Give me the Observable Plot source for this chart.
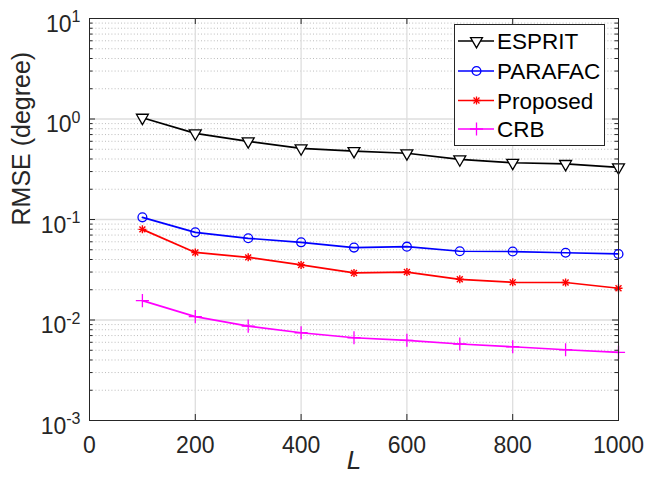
<!DOCTYPE html>
<html><head><meta charset="utf-8">
<script src="https://cdn.jsdelivr.net/npm/d3@7"></script>
<script src="https://cdn.jsdelivr.net/npm/@observablehq/plot@0.6"></script>
<style>
body{margin:0;background:#fff;}
#wrap{position:relative;width:657px;height:480px;}
#legend{position:absolute;left:454px;top:24px;width:149px;height:120px;border:1px solid #262626;background:#fff;}
#legend svg{display:block;}
</style></head><body><div id="wrap"></div>
<script>
// ---- data ----
const L = [100, 200, 300, 400, 500, 600, 700, 800, 900, 1000];
const esprit   = [1.03, 0.72, 0.60, 0.51, 0.48, 0.456, 0.397, 0.367, 0.357, 0.33];
const parafac  = [0.105, 0.0745, 0.065, 0.0593, 0.0525, 0.0537, 0.0483, 0.048, 0.0467, 0.0454];
const proposed = [0.0798, 0.047, 0.042, 0.0353, 0.0294, 0.030, 0.0254, 0.0237, 0.0236, 0.0207];
const crb      = [0.0156, 0.0108, 0.0087, 0.00747, 0.00666, 0.00628, 0.00577, 0.00542, 0.00506, 0.00476];
const seriesNames = ["ESPRIT", "PARAFAC", "Proposed", "CRB"];
const seriesColors = ["#000000", "#0000ff", "#ff0000", "#ff00ff"];
const xTicks = [0, 200, 400, 600, 800, 1000];
const yTicks = [1e-3, 1e-2, 1e-1, 1, 10];
const xLabel = "L";
const yLabel = "RMSE (degree)";

const seriesValues = [esprit, parafac, proposed, crb];
const rows = seriesNames.flatMap((s, k) => L.map((x, i) => ({L: x, v: seriesValues[k][i], s})));
const yMinor = [];
for (const d of [1e-3, 1e-2, 1e-1, 1]) for (let m = 2; m <= 9; m++) yMinor.push(+(d * m).toPrecision(3));

const W = 657, H = 480, mL = 89, mR = 39, mT = 18, mB = 60;
const pw = W - mL - mR, ph = H - mT - mB;
const font = "'Liberation Sans', Arial, Helvetica, sans-serif";
const ink = "#262626";
const of = (name) => rows.filter(r => r.s === name);

const chart = Plot.plot({
  width: W, height: H,
  marginLeft: mL, marginRight: mR, marginTop: mT, marginBottom: mB,
  style: {fontFamily: font, fontSize: "23px", color: ink, background: "white", overflow: "visible"},
  x: {domain: [0, 1000]},
  y: {type: "log", domain: [1e-3, 10]},
  color: {domain: seriesNames, range: seriesColors},
  marks: [
    Plot.ruleY(yMinor, {stroke: "#bcbcbc", strokeDasharray: "1,2.2", strokeWidth: 1}),
    Plot.ruleY(yTicks.slice(1, -1), {stroke: "#dedede", strokeWidth: 1.3}),
    Plot.ruleX(xTicks.slice(1, -1), {stroke: "#dedede", strokeWidth: 1.3}),
    // inward ticks
    Plot.ruleX(xTicks, {insetTop: ph - 6, stroke: ink}),
    Plot.ruleX(xTicks, {insetBottom: ph - 6, stroke: ink}),
    Plot.ruleY(yTicks, {insetRight: pw - 6, stroke: ink}),
    Plot.ruleY(yTicks, {insetLeft: pw - 6, stroke: ink}),
    Plot.ruleY(yMinor, {insetRight: pw - 3.5, stroke: ink}),
    Plot.ruleY(yMinor, {insetLeft: pw - 3.5, stroke: ink}),
    // series
    Plot.line(rows, {x: "L", y: "v", z: "s", stroke: "s", strokeWidth: 1.7}),
    Plot.dot(of("ESPRIT"), {x: "L", y: "v", symbol: "triangle2", rotate: 180, r: 5.7, stroke: "#000", fill: "white", strokeWidth: 1.3}),
    Plot.dot(of("PARAFAC"), {x: "L", y: "v", symbol: "circle", r: 4.4, stroke: "#0000ff", fill: "none", strokeWidth: 1.3}),
    Plot.dot(of("Proposed"), {x: "L", y: "v", symbol: "plus", r: 2.7, stroke: "#ff0000", strokeWidth: 1.4}),
    Plot.dot(of("Proposed"), {x: "L", y: "v", symbol: "times", r: 2.8, stroke: "#ff0000", strokeWidth: 1.4}),
    Plot.dot(of("CRB"), {x: "L", y: "v", symbol: "plus", r: 4.3, stroke: "#ff00ff", strokeWidth: 1.3}),
    Plot.frame({stroke: ink, strokeWidth: 1}),
    Plot.axisX({ticks: xTicks, tickSize: 0, tickPadding: 16, label: null, fontSize: 23, tickFormat: d => String(d)}),
    Plot.axisY({ticks: yTicks, tickSize: 0, tickPadding: 9, dy: 6, label: null, fontSize: 23,
                tickFormat: v => "10|" + Math.round(Math.log10(v))}),
    Plot.text([xLabel], {frameAnchor: "bottom", dy: 48, fontSize: 26, fontStyle: "italic", fill: ink}),
    Plot.text([yLabel], {frameAnchor: "left", rotate: -90, dx: -68, dy: 6, fontSize: 25, fill: ink})
  ]
});

// superscript exponents on y tick labels
chart.querySelectorAll('g[aria-label="y-axis tick label"] text').forEach(t => {
  const [base, ex] = t.textContent.split("|");
  t.textContent = "";
  const a = document.createElementNS("http://www.w3.org/2000/svg", "tspan");
  a.textContent = base;
  const b = document.createElementNS("http://www.w3.org/2000/svg", "tspan");
  b.textContent = ex;
  b.setAttribute("font-size", "16px");
  b.setAttribute("dy", "-0.6em");
  t.appendChild(a); t.appendChild(b);
});

const wrap = document.getElementById("wrap");
wrap.appendChild(chart);

// legend
const leg = document.createElement("div");
leg.id = "legend";
wrap.appendChild(leg);
const lsvg = d3.select(leg).append("svg").attr("width", 149).attr("height", 120)
  .style("font-family", font).style("font-size", "22.5px");
const symDefs = [
  [{type: d3.symbolTriangle2, size: Math.PI * 5.7 * 5.7, rot: 180, fill: "white"}],
  [{type: d3.symbolCircle, size: Math.PI * 4.4 * 4.4, rot: 0, fill: "none"}],
  [{type: d3.symbolPlus, size: Math.PI * 2.7 * 2.7, rot: 0, fill: "none"}, {type: d3.symbolTimes, size: Math.PI * 2.8 * 2.8, rot: 0, fill: "none"}],
  [{type: d3.symbolPlus, size: Math.PI * 4.3 * 4.3, rot: 0, fill: "none"}]
];
const rowY = [16, 46, 75.5, 104];
seriesNames.forEach((name, i) => {
  const g = lsvg.append("g").attr("transform", `translate(0,${rowY[i]})`);
  g.append("line").attr("x1", 3).attr("x2", 39).attr("stroke", seriesColors[i]).attr("stroke-width", 1.5);
  symDefs[i].forEach(sd => {
    g.append("path").attr("d", d3.symbol(sd.type, sd.size)())
      .attr("transform", `translate(21.5,0) rotate(${sd.rot})`)
      .attr("fill", sd.fill).attr("stroke", seriesColors[i]).attr("stroke-width", 1.3);
  });
  g.append("text").attr("x", 42).attr("dy", "0.36em").attr("fill", "#000").text(name);
});
</script>
</body></html>
